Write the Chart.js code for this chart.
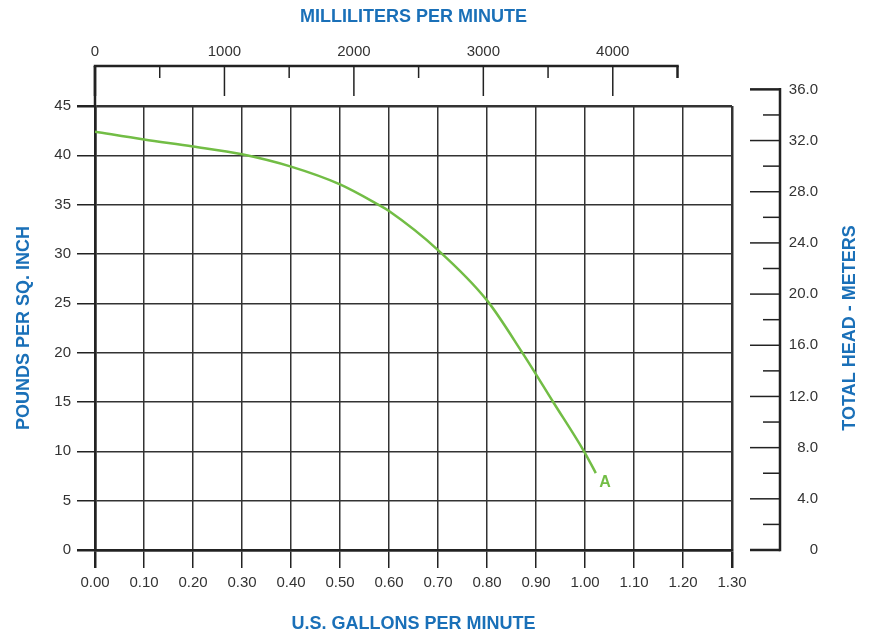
<!DOCTYPE html>
<html>
<head>
<meta charset="utf-8">
<script src="https://cdn.jsdelivr.net/npm/chart.js@4.4.1/dist/chart.umd.min.js"></script>
<style>
  html, body { margin: 0; padding: 0; background: #ffffff; }
  #wrap { width: 871px; height: 635px; }
</style>
</head>
<body>
<div id="wrap"><canvas id="c" width="871" height="635"></canvas></div>
<script>
// ---- data ----
const gpmValues = [0, 0.1, 0.2, 0.3, 0.4, 0.5, 0.578, 0.6, 0.7, 0.8, 0.872, 0.935, 0.998, 1.022];
const psiValues = [42.4, 41.6, 40.9, 40.1, 38.85, 37.05, 35.0, 34.35, 30.4, 25.3, 20.0, 15.0, 10.0, 7.8];
const curveName = 'A';
const curveLabelGpm = 1.041;
const curveLabelPsi = 6.4;

const gpmTicks = [0, 0.1, 0.2, 0.3, 0.4, 0.5, 0.6, 0.7, 0.8, 0.9, 1.0, 1.1, 1.2, 1.3];
const psiTicks = [0, 5, 10, 15, 20, 25, 30, 35, 40, 45];
const meterLabelTicks = [0, 4, 8, 12, 16, 20, 24, 28, 32, 36];
const meterAllTicks = [0, 2, 4, 6, 8, 10, 12, 14, 16, 18, 20, 22, 24, 26, 28, 30, 32, 34, 36];
const mlLabelTicks = [0, 1000, 2000, 3000, 4000];
const mlAllTicks = [0, 500, 1000, 1500, 2000, 2500, 3000, 3500, 4000, 4500];

const ML_PER_GALLON = 3785.41;
const GPM_MAX = 1.3;
const PSI_MAX = 45;
const METERS_AT_PLOT_TOP = 34.7;

// ---- styles ----
const BLUE = '#1a70b8';
const GREEN = '#72bd45';
const INK = '#222222';
const GRID = '#333333';
const TEXT = '#333333';
const FAMILY = '"Liberation Sans", Arial, Helvetica, sans-serif';

const near = (a, b) => Math.abs(a - b) < 1e-6;

const extras = {
  id: 'extras',
  afterDraw(chart) {
    const { ctx, chartArea: a, scales } = chart;
    const { x, y, x2, y2 } = scales;
    const line = (x1, y1, x3, y3) => { ctx.beginPath(); ctx.moveTo(x1, y1); ctx.lineTo(x3, y3); ctx.stroke(); };
    ctx.save();
    ctx.strokeStyle = INK;
    ctx.lineCap = 'butt';

    // top millilitre bracket
    const by = a.top - 40;
    ctx.lineWidth = 2.5;
    line(a.left, by, a.left, a.top);
    const bx0 = x2.getPixelForValue(mlAllTicks[0]);
    const bx1 = x2.getPixelForValue(mlAllTicks[mlAllTicks.length - 1]);
    line(bx0 - 1.25, by, bx1 + 1.25, by);
    mlAllTicks.forEach((v, i) => {
      const px = x2.getPixelForValue(v);
      const major = v % 1000 === 0;
      const end = i === 0 || i === mlAllTicks.length - 1;
      ctx.lineWidth = end ? 2.5 : 1.5;
      line(px, by, px, by + (major ? 30 : 12));
    });

    // right metre axis
    const rx = a.right + 48;
    const ry0 = y2.getPixelForValue(meterAllTicks[0]);
    const ry1 = y2.getPixelForValue(meterAllTicks[meterAllTicks.length - 1]);
    ctx.lineWidth = 2.5;
    line(rx, ry1 - 1.25, rx, ry0 + 1.25);
    meterAllTicks.forEach((v, i) => {
      const py = y2.getPixelForValue(v);
      const major = v % 4 === 0;
      const end = i === 0 || i === meterAllTicks.length - 1;
      ctx.lineWidth = end ? 2.5 : 1.5;
      line(rx - (major ? 30 : 17), py, rx, py);
    });

    // right axis title (reads bottom to top)
    ctx.fillStyle = BLUE;
    ctx.font = 'bold 18px ' + FAMILY;
    ctx.textAlign = 'center';
    ctx.textBaseline = 'middle';
    ctx.save();
    ctx.translate(850, (a.top + a.bottom) / 2);
    ctx.rotate(-Math.PI / 2);
    ctx.fillText('TOTAL HEAD - METERS', 0, 0);
    ctx.restore();

    // curve label
    ctx.fillStyle = GREEN;
    ctx.font = 'bold 16px ' + FAMILY;
    ctx.textAlign = 'center';
    ctx.textBaseline = 'alphabetic';
    ctx.fillText(curveName, x.getPixelForValue(curveLabelGpm), y.getPixelForValue(curveLabelPsi));
    ctx.restore();
  }
};

const tickFont = { family: FAMILY, size: 15 };
const titleFont = { family: FAMILY, size: 18, weight: 'bold' };

new Chart(document.getElementById('c'), {
  type: 'line',
  data: {
    datasets: [{
      label: curveName,
      data: gpmValues.map((g, i) => ({ x: g, y: psiValues[i] })),
      borderColor: GREEN,
      borderWidth: 2.5,
      pointRadius: 0,
      fill: false,
      cubicInterpolationMode: 'monotone',
      xAxisID: 'x',
      yAxisID: 'y'
    }]
  },
  options: {
    responsive: false,
    animation: false,
    devicePixelRatio: 1,
    layout: { padding: { left: 0, right: 53, top: 0, bottom: 0 } },
    plugins: { legend: { display: false }, tooltip: { enabled: false } },
    scales: {
      x: {
        type: 'linear', position: 'bottom', min: 0, max: GPM_MAX,
        afterBuildTicks: s => { s.ticks = gpmTicks.map(v => ({ value: v })); },
        afterFit: s => { s.height = 85; },
        ticks: { autoSkip: false, maxRotation: 0, font: tickFont, color: TEXT, padding: 6,
                 callback: v => Number(v).toFixed(2) },
        grid: { color: GRID, tickColor: INK, tickLength: 18,
                lineWidth: c => (c.tick && (near(c.tick.value, 0) || near(c.tick.value, GPM_MAX))) ? 2.5 : 1.5 },
        border: { display: true, color: INK, width: 2.5 },
        title: { display: true, text: 'U.S. GALLONS PER MINUTE', color: BLUE, font: titleFont,
                 padding: { top: 0, bottom: 0 } }
      },
      y: {
        type: 'linear', position: 'left', min: 0, max: PSI_MAX,
        afterBuildTicks: s => { s.ticks = psiTicks.map(v => ({ value: v })); },
        afterFit: s => { s.width = 95; },
        ticks: { autoSkip: false, font: tickFont, color: TEXT, padding: 6 },
        grid: { color: GRID, tickColor: INK, tickLength: 18,
                lineWidth: c => (c.tick && (near(c.tick.value, 0) || near(c.tick.value, PSI_MAX))) ? 2.5 : 1.5 },
        border: { display: true, color: INK, width: 2.5 },
        title: { display: true, text: 'POUNDS PER SQ. INCH', color: BLUE, font: titleFont,
                 padding: { top: 13, bottom: 0 } }
      },
      x2: {
        type: 'linear', position: 'top', min: 0, max: GPM_MAX * ML_PER_GALLON,
        afterBuildTicks: s => { s.ticks = mlLabelTicks.map(v => ({ value: v })); },
        afterFit: s => { s.height = 106; },
        ticks: { autoSkip: false, maxRotation: 0, font: tickFont, color: TEXT, padding: 37,
                 callback: v => String(v) },
        grid: { display: false },
        border: { display: false },
        title: { display: true, text: 'MILLILITERS PER MINUTE', color: BLUE, font: titleFont,
                 padding: { top: 6, bottom: 0 } }
      },
      y2: {
        type: 'linear', position: 'right', min: 0, max: METERS_AT_PLOT_TOP,
        afterBuildTicks: s => { s.ticks = meterLabelTicks.map(v => ({ value: v })); },
        afterFit: s => { s.width = 86; },
        ticks: { autoSkip: false, font: tickFont, color: TEXT, padding: 0, crossAlign: 'far',
                 callback: v => (v === 0 ? '0' : Number(v).toFixed(1)) },
        grid: { display: false },
        border: { display: false }
      }
    }
  },
  plugins: [extras]
});
</script>
</body>
</html>
